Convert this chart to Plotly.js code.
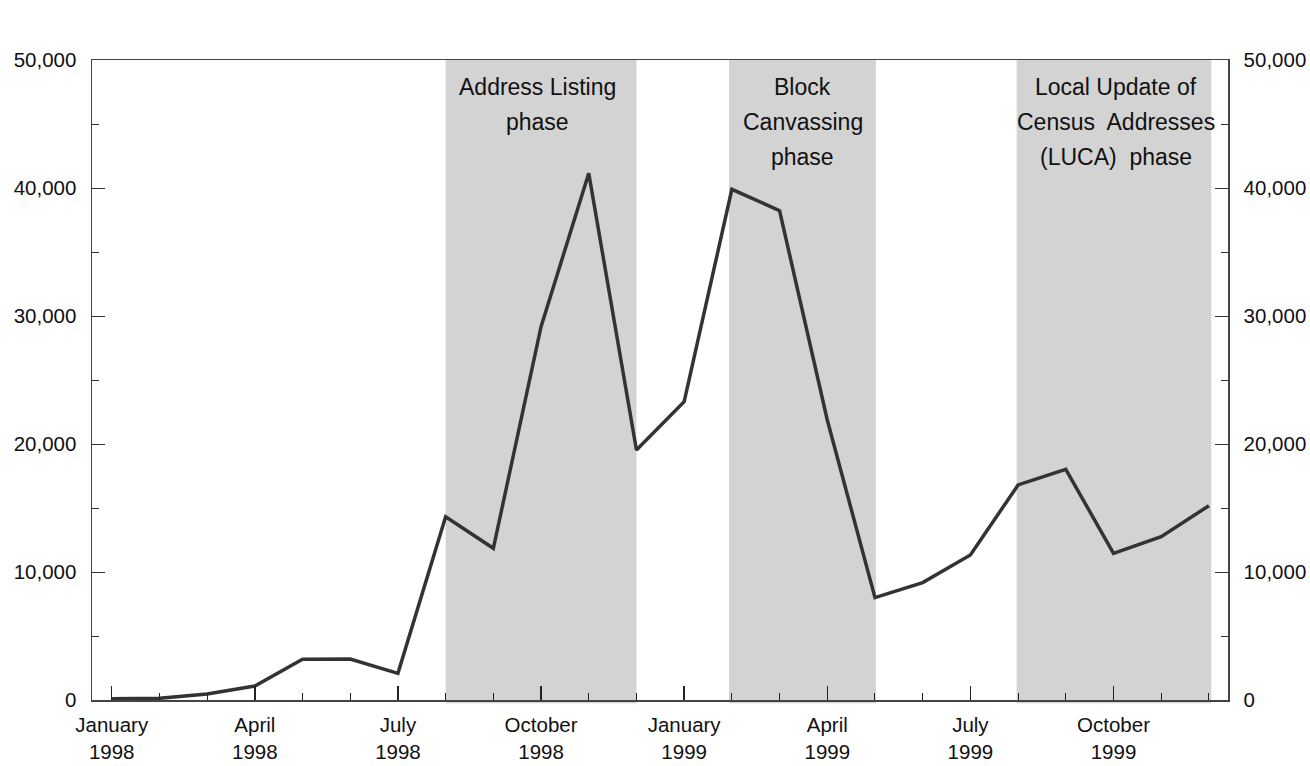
<!DOCTYPE html>
<html>
<head>
<meta charset="utf-8">
<script src="https://cdn.plot.ly/plotly-3.0.1.min.js"></script>
<style>
html,body{margin:0;padding:0;background:#fff;}
#chart{width:1310px;height:766px;}
</style>
</head>
<body>
<div id="chart"></div>
<script>
// Month index 0 = January 1998 ... 23 = December 1999
var months = [0,1,2,3,4,5,6,7,8,9,10,11,12,13,14,15,16,17,18,19,20,21,22,23];
var values = [100,130,470,1090,3180,3200,2080,14320,11850,29160,41150,19530,
              23310,39900,38230,21875,8000,9170,11330,16800,18020,11460,12760,15180];
var tickPositions = [0,3,6,9,12,15,18,21];
var tickLabels = ["January<br>1998","April<br>1998","July<br>1998","October<br>1998",
                  "January<br>1999","April<br>1999","July<br>1999","October<br>1999"];
var phaseStarts = [7, 12.94, 18.97];
var phaseEnds = [11, 16.02, 23.05];
var phaseLabelX = [8.93, 14.49, 21.05];
var phaseLabels = [
  ["Address Listing","phase"],
  ["Block","Canvassing","phase"],
  ["Local Update of","Census\u00a0 Addresses","(LUCA)\u00a0 phase"]
];
var labelLineY = [47900, 45150, 42400];
var yTicks = [0,10000,20000,30000,40000,50000];

var fontFam = "Liberation Sans, Arial, Helvetica, sans-serif";

var shapes = [];
for (var i = 0; i < phaseStarts.length; i++) {
  shapes.push({type:"rect", xref:"x", yref:"paper", x0:phaseStarts[i], x1:phaseEnds[i],
    y0:-0.005, y1:1, fillcolor:"#d3d3d3", line:{width:0}, layer:"below"});
}
var annotations = [];
for (var i = 0; i < phaseLabels.length; i++) {
  for (var j = 0; j < phaseLabels[i].length; j++) {
    annotations.push({x:phaseLabelX[i], y:labelLineY[j], xref:"x", yref:"y",
      text:phaseLabels[i][j], showarrow:false, xanchor:"center", yanchor:"middle",
      font:{family:fontFam, size:23, color:"#111"}});
  }
}

var trace = {x:months, y:values, type:"scatter", mode:"lines",
  line:{color:"#333333", width:3.5}, hoverinfo:"skip", showlegend:false};
var trace2 = {x:[months[0]], y:[values[0]], yaxis:"y2", type:"scatter", mode:"markers",
  marker:{opacity:0}, showlegend:false, hoverinfo:"skip"};

var yCommon = {
  range:[0,50000], tickmode:"array", tickvals:yTicks, tickformat:",d",
  ticks:"inside", ticklen:13, tickwidth:1, tickcolor:"#333",
  showgrid:false, zeroline:false, showline:true, linecolor:"#444", linewidth:1.5,
  ticklabelstandoff:10,
  tickfont:{family:fontFam, size:20.5, color:"#111"},
  minor:{tickmode:"linear", tick0:0, dtick:5000, ticks:"inside", ticklen:7, tickcolor:"#333", tickwidth:1, showgrid:false}
};

var layout = {
  width:1310, height:766,
  margin:{l:92, r:82, t:60, b:66},
  paper_bgcolor:"#fff", plot_bgcolor:"rgba(0,0,0,0)",
  showlegend:false,
  xaxis:{range:[-0.413,23.4], tickmode:"array", tickvals:tickPositions, ticktext:tickLabels,
    ticks:"inside", ticklen:14, tickwidth:1.5, tickcolor:"#222",
    showgrid:false, zeroline:false, showline:true, linecolor:"#444", linewidth:1.5, mirror:true,
    ticklabelstandoff:6,
    tickfont:{family:fontFam, size:20.5, color:"#111"},
    minor:{tickmode:"linear", tick0:0, dtick:1, ticks:"inside", ticklen:7, tickcolor:"#222", tickwidth:1, showgrid:false}
  },
  yaxis:Object.assign({}, yCommon, {side:"left"}),
  yaxis2:Object.assign({}, yCommon, {side:"right", overlaying:"y", minor:Object.assign({}, yCommon.minor)}),
  shapes:shapes,
  annotations:annotations
};

Plotly.newPlot("chart", [trace, trace2], layout, {displayModeBar:false, staticPlot:true});
</script>
</body>
</html>
